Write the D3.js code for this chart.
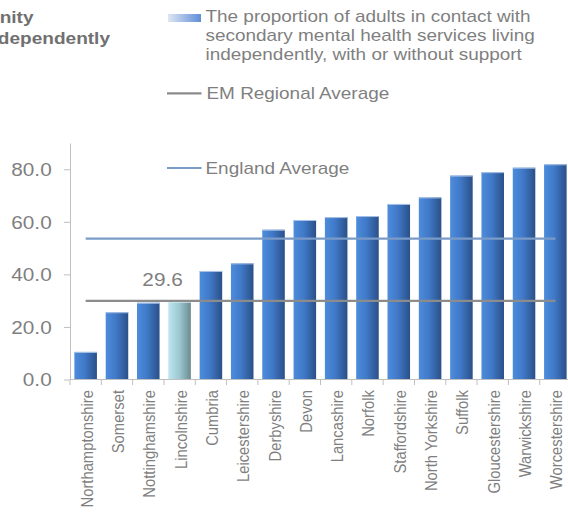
<!DOCTYPE html>
<html>
<head>
<meta charset="utf-8">
<script src="https://cdn.jsdelivr.net/npm/d3@7"></script>
<style>
  html, body { margin: 0; padding: 0; background: #ffffff; }
  svg { display: block; font-family: "Liberation Sans", Arial, sans-serif; }
</style>
</head>
<body>
<svg id="chart" width="568" height="517"></svg>
<script>
// ---- data ----
const categories = ["Northamptonshire", "Somerset", "Nottinghamshire", "Lincolnshire", "Cumbria",
  "Leicestershire", "Derbyshire", "Devon", "Lancashire", "Norfolk", "Staffordshire",
  "North Yorkshire", "Suffolk", "Gloucestershire", "Warwickshire", "Worcestershire"];
const values = [10.5, 25.6, 29.2, 29.6, 41.3, 44.2, 57.0, 60.7, 61.8, 62.2, 66.8, 69.3, 77.6, 78.9, 80.6, 81.9];
const highlighted = "Lincolnshire";
const englandAverage = 53.6;
const emRegionalAverage = 29.9;
const yTicks = [0, 20, 40, 60, 80];
const titleLines = ["Living in the Community", "Independently"];
const legendLines = ["The proportion of adults in contact with",
  "secondary mental health services living",
  "independently, with or without support"];
const emLabel = "EM Regional Average";
const englandLabel = "England Average";

(function () {
// ---- layout ----
const SX = 1.155; // horizontal text stretch seen in the reference
const svg = d3.select("#chart");
const pLeft = 70, pRight = 571, pTop = 143, pBottom = 379.5;

const x = d3.scaleBand().domain(categories).range([pLeft, pRight]).paddingInner(0.28).paddingOuter(0.14);
const y = d3.scaleLinear().domain([0, 90]).range([pBottom, pTop]);

const defs = svg.append("defs");
const gBlue = defs.append("linearGradient").attr("id", "gBlue").attr("x1", 0).attr("x2", 1).attr("y1", 0).attr("y2", 0);
gBlue.append("stop").attr("offset", "0%").attr("stop-color", "#4d8cdc");
gBlue.append("stop").attr("offset", "45%").attr("stop-color", "#4079c8");
gBlue.append("stop").attr("offset", "100%").attr("stop-color", "#2a5088");
const gHi = defs.append("linearGradient").attr("id", "gHi").attr("x1", 0).attr("x2", 1).attr("y1", 0).attr("y2", 0);
gHi.append("stop").attr("offset", "0%").attr("stop-color", "#bde6ef");
gHi.append("stop").attr("offset", "50%").attr("stop-color", "#9cc6d0");
gHi.append("stop").attr("offset", "100%").attr("stop-color", "#6b8b92");
const gLeg = defs.append("linearGradient").attr("id", "gLeg").attr("x1", 0).attr("x2", 1).attr("y1", 0).attr("y2", 0);
gLeg.append("stop").attr("offset", "0%").attr("stop-color", "#dfe6f4");
gLeg.append("stop").attr("offset", "100%").attr("stop-color", "#5f8ed8");

function stext(parent, tx, ty, str, opts) {
  const t = parent.append("text")
    .attr("transform", `translate(${tx},${ty}) scale(${SX},1)` + (opts.rotate ? " rotate(-90)" : ""))
    .attr("font-size", opts.size)
    .attr("fill", opts.fill || "#7f7f7f")
    .attr("text-anchor", opts.anchor || "start")
    .text(str);
  if (opts.weight) t.attr("font-weight", opts.weight);
  return t;
}

// ---- title (cropped at the left edge, as in the reference) ----
stext(svg, 33.5, 23.3, titleLines[0], {size: 16.5, weight: "bold", fill: "#707070", anchor: "end"});
stext(svg, 110, 44.3, titleLines[1], {size: 16.5, weight: "bold", fill: "#707070", anchor: "end"});

// ---- legend ----
svg.append("rect").attr("x", 168).attr("y", 14).attr("width", 33).attr("height", 8).attr("fill", "url(#gLeg)");
legendLines.forEach((l, i) => stext(svg, 205.5, 22.3 + i * 18.7, l, {size: 16.4}));
svg.append("line").attr("x1", 167).attr("x2", 201.5).attr("y1", 93.3).attr("y2", 93.3)
  .attr("stroke", "#8c8c8c").attr("stroke-width", 2.2);
stext(svg, 206.5, 99, emLabel, {size: 16.4});

// ---- y axis ----
const yAxis = svg.append("g").attr("transform", `translate(${pLeft},0)`)
  .call(d3.axisLeft(y).tickValues(yTicks).tickFormat(d3.format(".1f")).tickSize(6).tickSizeOuter(0));
yAxis.select(".domain").attr("stroke", "#bfbfbf");
yAxis.selectAll(".tick line").attr("stroke", "#bfbfbf");
yAxis.selectAll(".tick text")
  .attr("x", -18.3 / SX).attr("dy", "0.36em")
  .attr("transform", `scale(${SX},1)`)
  .attr("font-size", 18).attr("fill", "#7f7f7f")
  .attr("font-family", "Liberation Sans, Arial, sans-serif");

// ---- bars ----
svg.append("g").selectAll("rect").data(categories).join("rect")
  .attr("x", d => x(d))
  .attr("y", (d, i) => y(values[i]))
  .attr("width", x.bandwidth())
  .attr("height", (d, i) => y(0) - y(values[i]))
  .attr("fill", d => d === highlighted ? "url(#gHi)" : "url(#gBlue)");
svg.append("g").selectAll("line").data(categories).join("line")
  .attr("x1", d => x(d)).attr("x2", d => x(d) + x.bandwidth())
  .attr("y1", (d, i) => y(values[i]) + 0.5).attr("y2", (d, i) => y(values[i]) + 0.5)
  .attr("stroke", d => d === highlighted ? "#d8eef3" : "#a9c3e6").attr("stroke-width", 1);

// ---- x axis ----
const step = x.step();
const x0 = x(categories[0]) - step * x.paddingOuter();
svg.append("line").attr("x1", pLeft).attr("x2", 568).attr("y1", y(0)).attr("y2", y(0))
  .attr("stroke", "#bfbfbf");
svg.append("g").selectAll("line").data(d3.range(categories.length + 1)).join("line")
  .attr("x1", i => x0 + i * step).attr("x2", i => x0 + i * step)
  .attr("y1", y(0)).attr("y2", y(0) + 5.5)
  .attr("stroke", "#bfbfbf");
const lab = svg.append("g");
categories.forEach(c => stext(lab, x(c) + x.bandwidth() / 2 + 7, 390, c, {size: 14.8, anchor: "end", rotate: true}));

// ---- averages ----
const cFirst = x(categories[0]) + x.bandwidth() / 2;
const cLast = x(categories[categories.length - 1]) + x.bandwidth() / 2;
svg.append("line").attr("x1", cFirst).attr("x2", cLast).attr("y1", y(englandAverage)).attr("y2", y(englandAverage))
  .attr("stroke", "#7b9bc7").attr("stroke-width", 2.2);
svg.append("line").attr("x1", cFirst).attr("x2", cLast).attr("y1", y(emRegionalAverage)).attr("y2", y(emRegionalAverage))
  .attr("stroke", "#8c8c8c").attr("stroke-width", 2.2);

// England legend item inside plot
svg.append("line").attr("x1", 167).attr("x2", 201.5).attr("y1", 168).attr("y2", 168)
  .attr("stroke", "#7b9bc7").attr("stroke-width", 2.2);
stext(svg, 205.5, 173.5, englandLabel, {size: 16.4});

// ---- data label ----
const hi = categories.indexOf(highlighted);
stext(svg, x(highlighted) + x.bandwidth() / 2 - 17, y(values[hi]) - 15.5, d3.format(".1f")(values[hi]), {size: 18, anchor: "middle"});
})();
</script>
</body>
</html>
